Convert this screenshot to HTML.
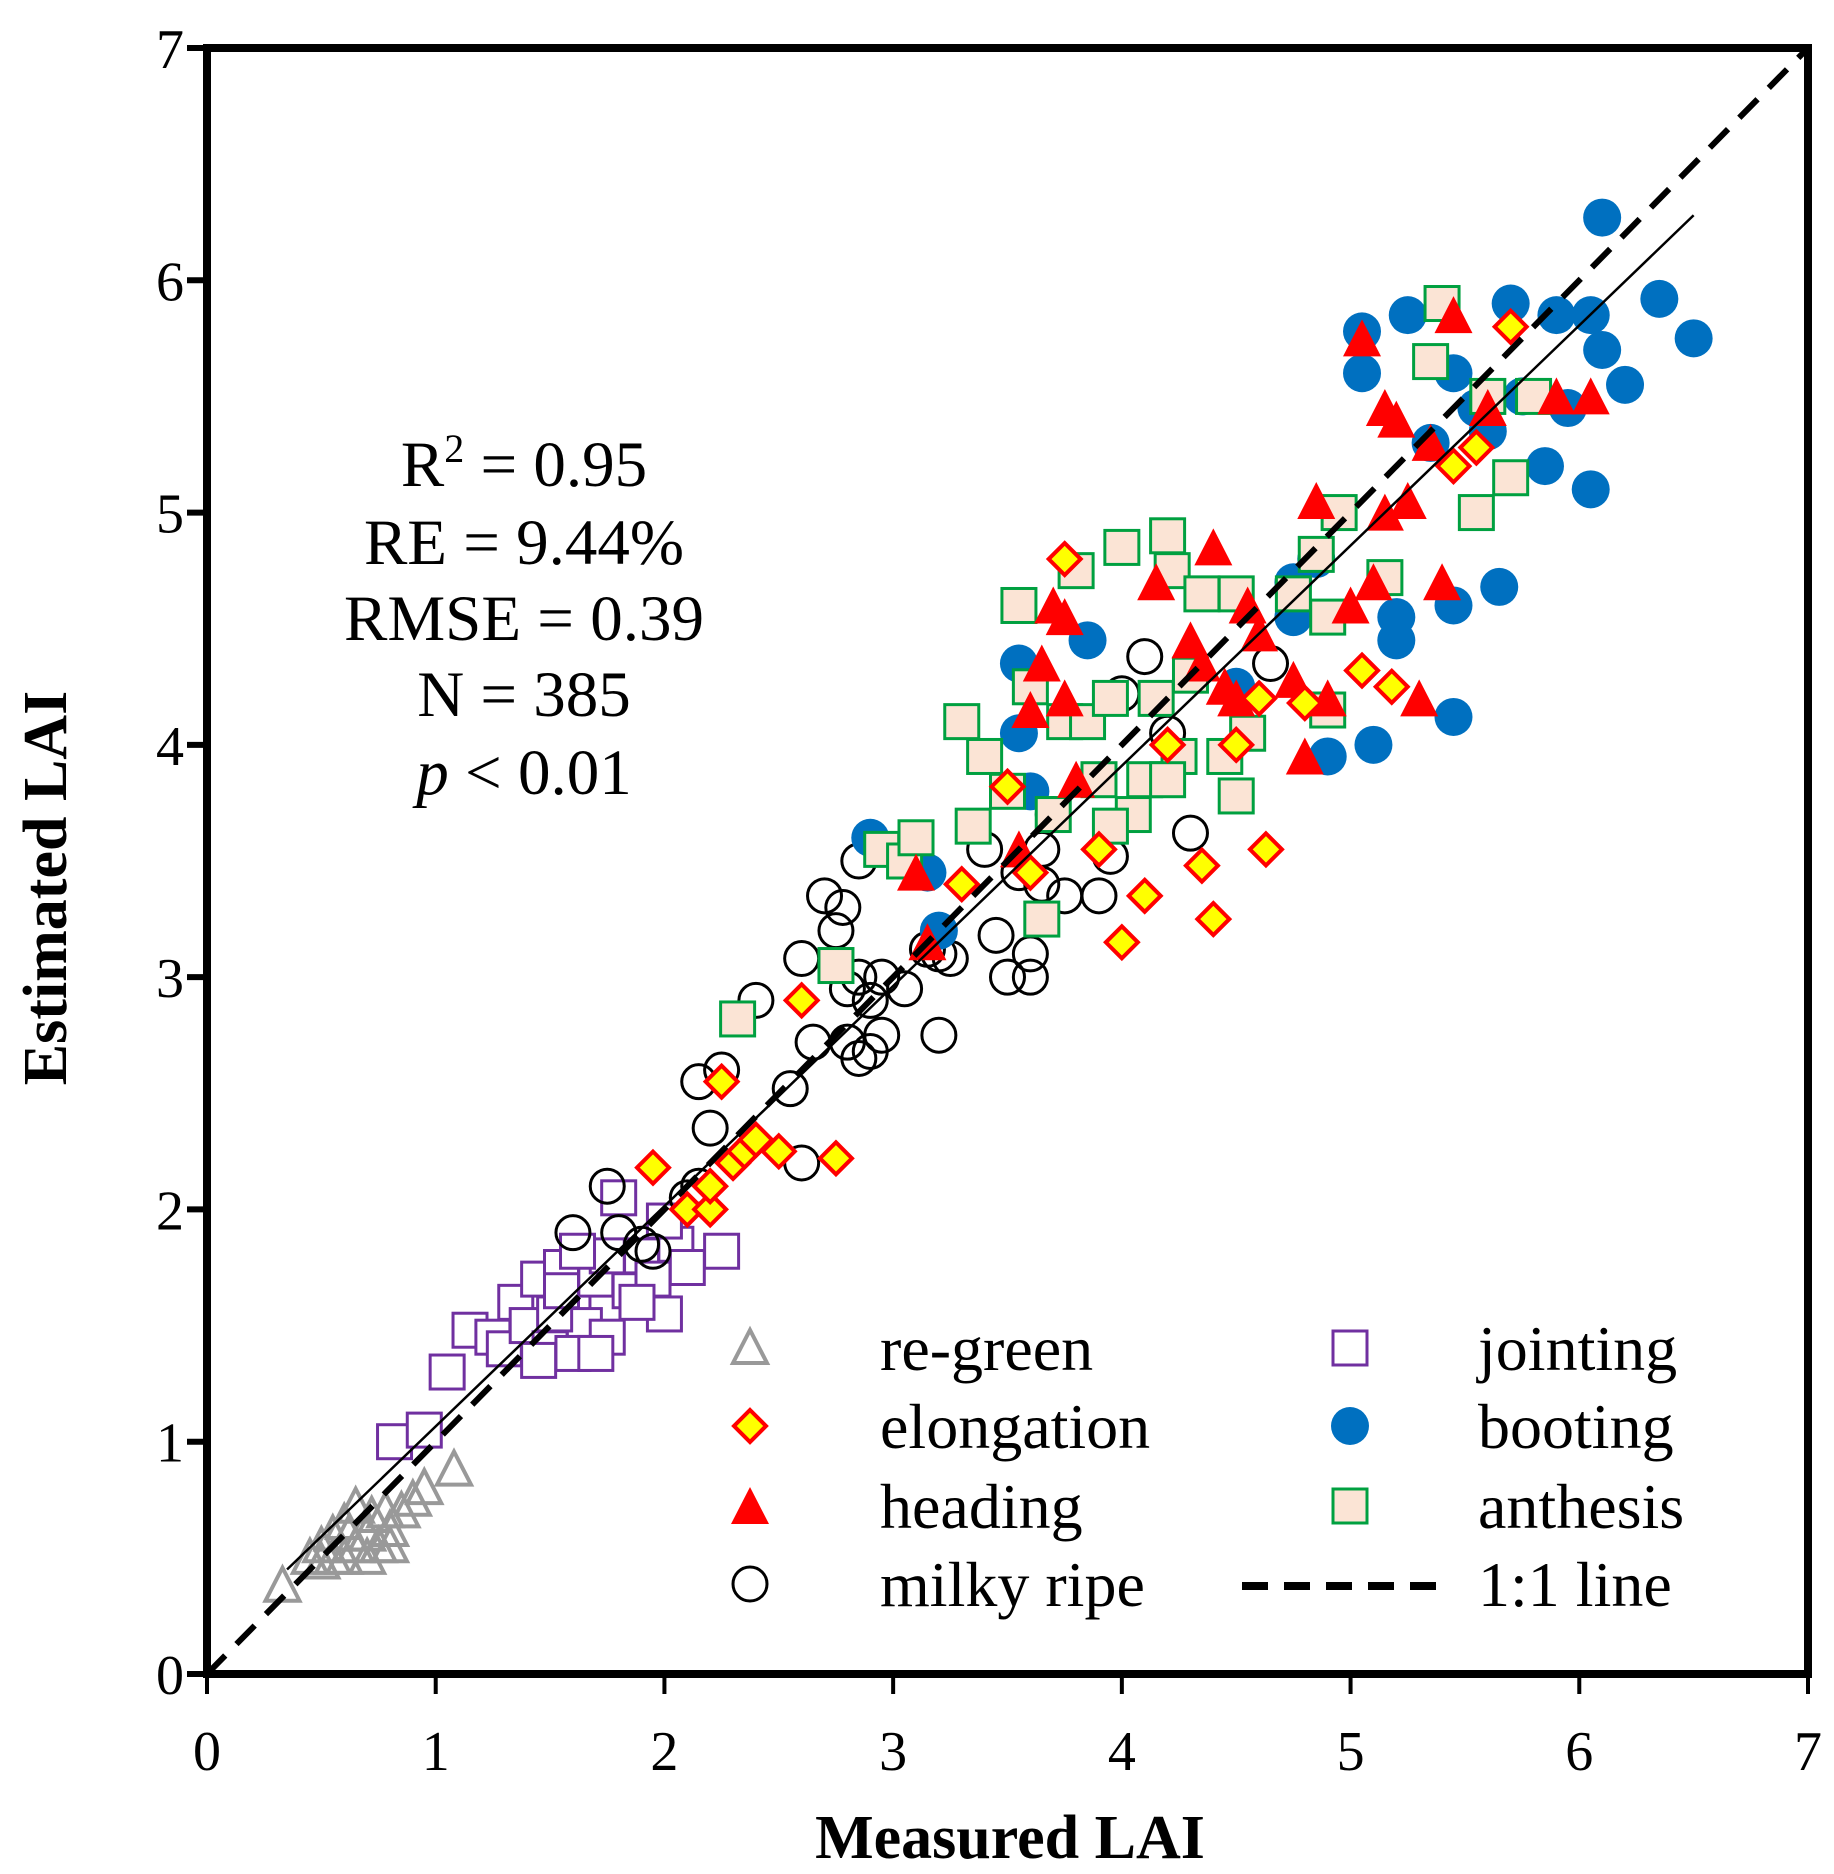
<!DOCTYPE html>
<html><head><meta charset="utf-8"><style>
html,body{margin:0;padding:0;background:#fff;}
svg{display:block;font-family:"Liberation Serif",serif;}
</style></head><body>
<svg id="chart" width="1834" height="1874" viewBox="0 0 1834 1874">
<g id="marks"></g>
<g id="axes"></g>
<g font-size="65" text-anchor="middle">
<text x="524" y="486">R<tspan font-size="40" dy="-24">2</tspan><tspan dy="24"> = 0.95</tspan></text>
<text x="524" y="564">RE = 9.44%</text>
<text x="524" y="640">RMSE = 0.39</text>
<text x="524" y="716">N = 385</text>
<text x="524" y="794"><tspan font-style="italic">p</tspan> &lt; 0.01</text>
</g>
<g id="legend" font-size="64"></g>
<text x="1010" y="1858" font-size="62" font-weight="bold" text-anchor="middle">Measured LAI</text>
<text transform="translate(66,888) rotate(-90)" font-size="62" font-weight="bold" text-anchor="middle">Estimated LAI</text>
</svg>
<script>
const xTicks=[0,1,2,3,4,5,6,7];
const yTicks=[0,1,2,3,4,5,6,7];
const regreenX=[0.33,0.45,0.5,0.55,0.6,0.65,0.7,0.75,0.8,0.85,0.9,0.95,1.08,0.6,0.7,0.8,0.55,0.65,0.72,0.5,0.62,0.78];
const regreenY=[0.38,0.5,0.55,0.6,0.65,0.72,0.6,0.55,0.62,0.7,0.75,0.8,0.88,0.5,0.5,0.55,0.5,0.55,0.68,0.48,0.6,0.7];
const jointX=[0.82,0.95,1.05,1.15,1.25,1.3,1.35,1.4,1.45,1.5,1.55,1.6,1.65,1.7,1.75,1.8,1.85,1.9,1.95,2.0,2.05,2.1,2.25,1.52,1.6,1.7,1.45,1.75,1.88,1.55,1.62,2.0];
const jointY=[1.0,1.05,1.3,1.48,1.45,1.4,1.6,1.5,1.7,1.4,1.75,1.6,1.5,1.7,1.45,2.05,1.65,1.8,1.7,1.55,1.85,1.75,1.82,1.55,1.38,1.38,1.35,1.8,1.6,1.65,1.82,1.95];
const milkyX=[1.6,1.75,1.8,1.9,1.95,2.1,2.15,2.2,2.15,2.25,2.4,2.55,2.6,2.6,2.65,2.7,2.75,2.78,2.8,2.85,2.85,2.9,2.95,2.95,2.9,3.05,3.15,3.2,3.25,3.4,3.45,3.5,3.55,3.6,3.6,3.65,3.7,3.75,3.9,3.95,4.0,4.1,4.2,4.3,4.65,2.85,3.65,2.8,3.2];
const milkyY=[1.9,2.1,1.9,1.85,1.82,2.05,2.1,2.35,2.55,2.6,2.9,2.52,2.2,3.08,2.72,3.35,3.2,3.3,2.95,2.65,3.5,2.9,2.75,3.0,2.68,2.95,3.12,2.75,3.08,3.55,3.18,3.0,3.45,3.0,3.1,3.55,3.7,3.35,3.35,3.52,4.22,4.38,4.05,3.62,4.35,3.0,3.4,2.72,3.1];
const bootX=[2.9,3.15,3.2,3.55,3.6,3.55,3.85,4.5,4.75,4.85,4.9,5.05,5.1,5.2,5.2,5.25,5.35,5.45,5.45,5.45,5.55,5.6,5.65,5.7,5.75,5.85,5.9,5.95,6.05,6.05,6.1,6.1,6.2,6.35,6.5,5.05,4.75];
const bootY=[3.6,3.45,3.2,4.05,3.8,4.35,4.45,4.25,4.7,4.8,3.95,5.6,4.0,4.45,4.55,5.85,5.3,5.6,4.6,4.12,5.45,5.35,4.68,5.9,5.5,5.2,5.85,5.45,5.85,5.1,5.7,6.27,5.55,5.92,5.75,5.78,4.55];
const anthX=[2.32,2.75,2.95,3.05,3.1,3.3,3.35,3.4,3.5,3.55,3.6,3.65,3.7,3.75,3.8,3.85,3.9,3.95,4.0,4.05,4.1,4.15,4.2,4.22,4.25,4.3,4.35,4.45,4.5,4.5,4.55,4.75,4.85,4.9,4.9,4.95,5.15,5.35,5.4,5.55,5.6,5.7,5.8,3.95,4.2];
const anthY=[2.82,3.05,3.55,3.5,3.6,4.1,3.65,3.95,3.8,4.6,4.25,3.25,3.7,4.1,4.75,4.1,3.85,4.2,4.85,3.7,3.85,4.2,4.9,4.75,3.95,4.3,4.65,3.95,4.65,3.78,4.05,4.65,4.82,4.55,4.15,5.0,4.72,5.65,5.9,5.0,5.5,5.15,5.5,3.65,3.85];
const headX=[3.15,3.1,3.55,3.6,3.65,3.75,3.75,3.7,3.8,4.15,4.3,4.35,4.4,4.45,4.5,4.6,4.75,4.8,4.85,4.9,5.05,5.1,5.15,5.2,5.25,5.3,5.35,5.45,5.4,5.6,5.9,6.05,4.55,5.15,5.0];
const headY=[3.15,3.45,3.55,4.15,4.35,4.2,4.55,4.6,3.85,4.7,4.45,4.35,4.85,4.25,4.2,4.48,4.28,3.95,5.05,4.2,5.75,4.7,5.0,5.4,5.05,4.2,5.3,5.85,4.7,5.45,5.5,5.5,4.6,5.45,4.6];
const elongX=[1.95,2.1,2.2,2.25,2.3,2.35,2.4,2.5,2.6,2.75,3.5,3.6,3.75,4.0,4.1,4.35,4.4,4.63,4.5,4.6,4.8,5.05,5.18,5.45,5.55,5.7,3.9,3.3,4.2,2.2];
const elongY=[2.18,2.0,2.0,2.55,2.2,2.25,2.3,2.25,2.9,2.22,3.82,3.45,4.8,3.15,3.35,3.48,3.25,3.55,4.0,4.2,4.18,4.32,4.25,5.2,5.28,5.8,3.55,3.4,4.0,2.1];
const fitX=[0.35,6.5];
const fitY=[0.45,6.28];

const NS='http://www.w3.org/2000/svg';
const L=207,R=1808,T=48,B=1674;
const sx=v=>L+(R-L)*v/7, sy=v=>B-(B-T)*v/7;
function mk(tag,attrs,parent){const e=document.createElementNS(NS,tag);for(const k in attrs)e.setAttribute(k,attrs[k]);parent.appendChild(e);return e;}
const marks=document.getElementById('marks'),axes=document.getElementById('axes'),legend=document.getElementById('legend');

function marker(kind,x,y,parent){
  let e;
  if(kind==='tri-open'){e=mk('polygon',{points:`${x},${y-18} ${x-17},${y+15} ${x+17},${y+15}`,fill:'none',stroke:'#999','stroke-width':4},parent);}
  else if(kind==='tri-fill'){e=mk('polygon',{points:`${x},${y-19} ${x-19},${y+18} ${x+19},${y+18}`,fill:'#ff0000'},parent);}
  else if(kind==='sq-purple'){e=mk('rect',{x:x-17,y:y-17,width:34,height:34,fill:'#fff',stroke:'#7030a0','stroke-width':3},parent);}
  else if(kind==='sq-anth'){e=mk('rect',{x:x-17,y:y-17,width:34,height:34,fill:'#fbe4d5',stroke:'#00a040','stroke-width':3},parent);}
  else if(kind==='circ-open'){e=mk('circle',{cx:x,cy:y,r:17,fill:'none',stroke:'#000','stroke-width':3},parent);}
  else if(kind==='circ-blue'){e=mk('circle',{cx:x,cy:y,r:19,fill:'#0070c0'},parent);}
  else if(kind==='diamond'){e=mk('polygon',{points:`${x},${y-16} ${x+16},${y} ${x},${y+16} ${x-16},${y}`,fill:'#ffff00',stroke:'#ff0000','stroke-width':4},parent);}
  return e;
}
const series=[
 ['tri-open',regreenX,regreenY,'regreen-point'],
 ['sq-purple',jointX,jointY,'jointing-point'],
 ['circ-open',milkyX,milkyY,'milky-ripe-point'],
 ['circ-blue',bootX,bootY,'booting-point'],
 ['sq-anth',anthX,anthY,'anthesis-point'],
 ['tri-fill',headX,headY,'heading-point'],
 ['diamond',elongX,elongY,'elongation-point']
];
series.forEach(s=>{
  s[1].forEach((v,i)=>{
    const e=marker(s[0],sx(v),sy(s[2][i]),marks);
    
    
  });
});
const one=mk('line',{x1:sx(0),y1:sy(0),x2:sx(7),y2:sy(7),stroke:'#000','stroke-width':6,'stroke-dasharray':'26 16'},marks);


const fit=mk('line',{x1:sx(fitX[0]),y1:sy(fitY[0]),x2:sx(fitX[1]),y2:sy(fitY[1]),stroke:'#000','stroke-width':2.5},marks);



const fr=mk('rect',{x:L,y:T,width:R-L,height:B-T,fill:'none',stroke:'#000','stroke-width':8},axes);


xTicks.forEach(v=>{
  const t=mk('line',{x1:sx(v),y1:B,x2:sx(v),y2:B+20,stroke:'#000','stroke-width':4},axes);
  
  
  const l=mk('text',{x:sx(v),y:B+96,'font-size':56,'text-anchor':'middle'},axes);
  l.textContent=v;
  
  
});
yTicks.forEach(v=>{
  const t=mk('line',{x1:L-20,y1:sy(v),x2:L,y2:sy(v),stroke:'#000','stroke-width':6},axes);
  
  
  const l=mk('text',{x:184,y:sy(v)+20,'font-size':56,'text-anchor':'end'},axes);
  l.textContent=v;
  
  
});

const legItems=[
 ['tri-open','re-green',750,880,1370],
 ['diamond','elongation',750,880,1448],
 ['tri-fill','heading',750,880,1528],
 ['circ-open','milky ripe',750,880,1606],
 ['sq-purple','jointing',1350,1478,1370],
 ['circ-blue','booting',1350,1478,1448],
 ['sq-anth','anthesis',1350,1478,1528],
 ['dash','1:1 line',1340,1478,1606]
];
legItems.forEach(it=>{
  const g=mk('g',{},legend);
  
  
  if(it[0]==='dash'){
    mk('line',{x1:1242,y1:it[4]-20,x2:1440,y2:it[4]-20,stroke:'#000','stroke-width':8,'stroke-dasharray':'26 16'},g);
  } else marker(it[0],it[2],it[4]-22,g);
  const t=mk('text',{x:it[3],y:it[4]},g);
  t.textContent=it[1];
});
</script>
</body></html>
